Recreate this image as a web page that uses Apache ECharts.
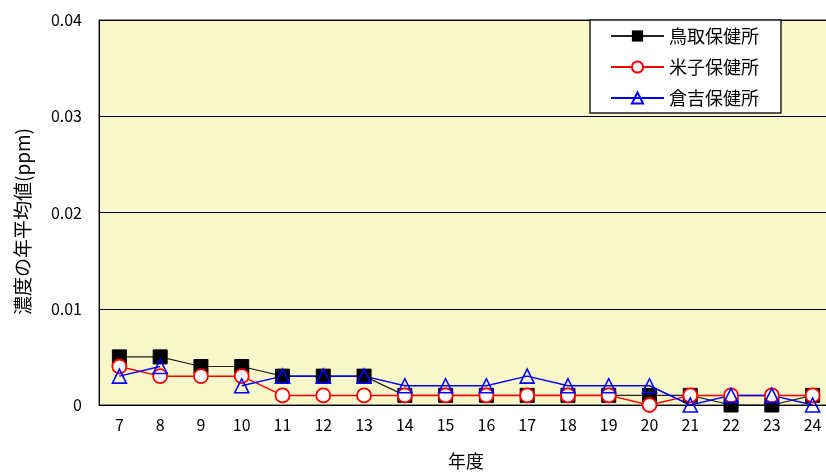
<!DOCTYPE html>
<html><head><meta charset="utf-8">
<script src="https://cdn.jsdelivr.net/npm/echarts@6/dist/echarts.min.js"></script>
<style>html,body{margin:0;padding:0;background:#fff}#c{width:826px;height:475px}</style>
</head><body><div id="c"></div>
<script>
const years = ['7','8','9','10','11','12','13','14','15','16','17','18','19','20','21','22','23','24'];
const tottori = [0.005,0.005,0.004,0.004,0.003,0.003,0.003,0.001,0.001,0.001,0.001,0.001,0.001,0.001,0.001,0,0,0.001];
const yonago  = [0.004,0.003,0.003,0.003,0.001,0.001,0.001,0.001,0.001,0.001,0.001,0.001,0.001,0,0.001,0.001,0.001,0.001];
const kurayoshi = [0.003,0.004,null,0.002,0.003,0.003,0.003,0.002,0.002,0.002,0.003,0.002,0.002,0.002,0,0.001,0.001,0];
const names = ['鳥取保健所','米子保健所','倉吉保健所'];
const font = '"Noto Sans CJK JP", sans-serif';
const chart = echarts.init(document.getElementById('c'));
chart.setOption({
  animation:false,
  textStyle:{fontFamily:font},
  grid:{left:99,top:20,width:734,height:385,outerBoundsMode:'none',containLabel:false,
        show:true,backgroundColor:'#F8F7C9',borderColor:'#222',borderWidth:1},
  legend:{
    orient:'vertical',left:590,top:20,
    padding:[7,22,6,20],itemGap:13,itemWidth:53,itemHeight:14,
    backgroundColor:'#fff',borderColor:'#222',borderWidth:1.5,
    textStyle:{fontFamily:font,fontSize:18,lineHeight:18,color:'#000'},
    data:names
  },
  xAxis:{
    type:'category',data:years,boundaryGap:true,
    axisLine:{lineStyle:{color:'#000',width:1}},
    axisTick:{show:false},
    axisLabel:{color:'#000',fontSize:16,margin:12,fontFamily:font},
    name:'年度',nameLocation:'middle',nameGap:47,
    nameTextStyle:{color:'#000',fontSize:18,fontFamily:font}
  },
  yAxis:{
    type:'value',min:0,max:0.04,interval:0.01,
    axisLine:{show:true,lineStyle:{color:'#000'}},
    axisTick:{show:false},
    splitLine:{lineStyle:{color:'#000',width:1}},
    axisLabel:{color:'#000',fontSize:16,margin:17,fontFamily:font},
    name:'濃度の年平均値(ppm)',nameLocation:'middle',nameGap:67,nameRotate:90,
    nameTextStyle:{color:'#000',fontSize:19,fontFamily:font,padding:[0,18,0,0]}
  },
  series:[
    {name:names[0],type:'line',data:tottori,symbol:'rect',symbolSize:14,
     lineStyle:{color:'#222',width:1.2},itemStyle:{color:'#000',borderColor:'#000'}},
    {name:names[1],type:'line',data:yonago,symbol:'circle',symbolSize:14,
     lineStyle:{color:'#ff0000',width:1.5},itemStyle:{color:'#fff',borderColor:'#ff0000',borderWidth:1.8}},
    {name:names[2],type:'line',data:kurayoshi,symbol:'triangle',symbolSize:14,connectNulls:false,
     lineStyle:{color:'#0000ff',width:1.5},itemStyle:{color:'rgba(255,255,255,0)',borderColor:'#0000ff',borderWidth:1.6}}
  ]
});
</script></body></html>
